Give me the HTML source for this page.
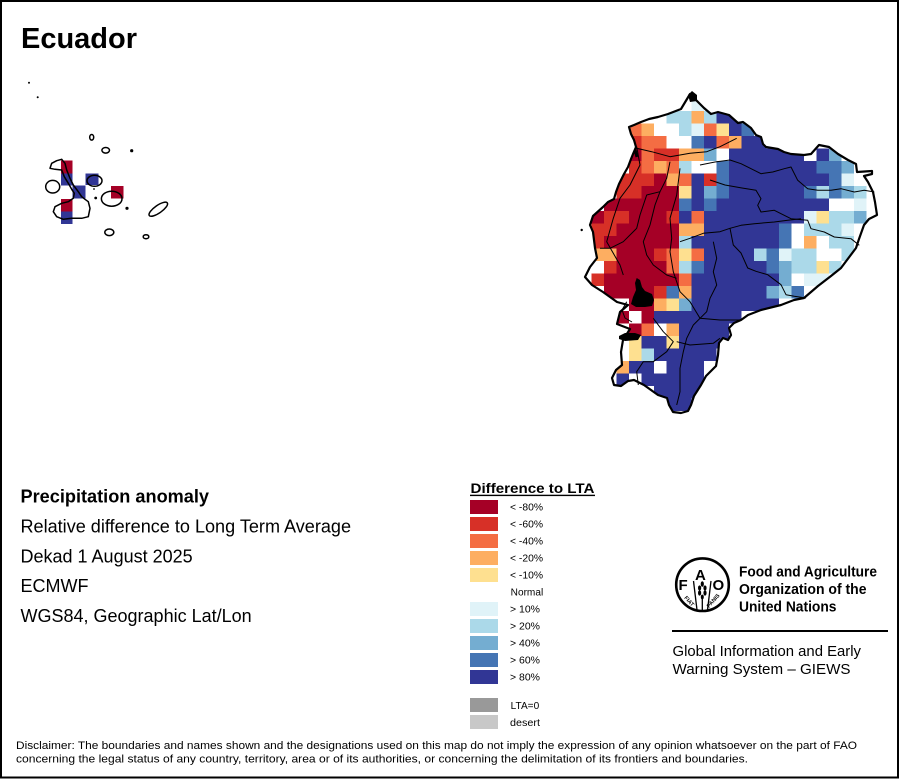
<!DOCTYPE html>
<html>
<head>
<meta charset="utf-8">
<style>
html,body{margin:0;padding:0;background:#fff;}
svg{display:block;}
.a{fill:#a50026}.b{fill:#d73027}.c{fill:#f46d43}.d{fill:#fdae61}.e{fill:#fee090}
.f{fill:#e0f3f8}.g{fill:#abd9e9}.h{fill:#74add1}.i{fill:#4575b4}.j{fill:#313695}
text{font-family:"Liberation Sans",Arial,sans-serif;fill:#000;}
.ln{fill:none;stroke:#000;stroke-width:1;stroke-linejoin:round}
</style>
</head>
<body>
<svg width="900" height="779" viewBox="0 0 900 779" xmlns="http://www.w3.org/2000/svg">
<rect x="0" y="0" width="900" height="779" fill="#fff"/>
<defs>
<clipPath id="cl">
<path d="M690,94 L697,101 L704,108 L711,114 L718,112 L729,115 L738,123 L743,122 L751,128 L756,135 L761,137 L763,144 L766,147 L778,149 L784,152 L791,154 L804,155 L811,154 L819,145 L829,147 L838,154 L848,160 L856,164 L857,172 L872,171 L872,174 L864,176 L868,182 L873,192 L875,202 L877,215 L869,219 L864,225 L859,239 L856,248 L841,268 L831,276 L818,286 L804,298 L794,300 L781,305 L761,310 L748,315 L741,320 L734,323 L729,328 L731,335 L728,340 L723,338 L719,343 L718,355 L716,366 L706,376 L701,385 L694,396 L691,405 L688,411 L681,413 L673,412 L669,405 L667,398 L658,395 L651,390 L644,385 L634,380 L628,381 L621,386 L614,385 L612,378 L616,370 L622,365 L621,352 L623,340 L630,329 L617,324 L620,312 L628,305 L617,302 L603,292 L592,285 L585,277 L590,267 L597,258 L595,248 L593,232 L590,225 L593,216 L603,207 L608,202 L614,199 L616,192 L619,184 L624,174 L628,167 L631,159 L633,154 L636,147 L634,140 L631,134 L629,127 L634,125 L641,122 L649,119 L658,117 L668,114 L681,109 Z"/>
</clipPath>
</defs>

<!-- Title -->
<text x="21" y="48" font-size="29" font-weight="bold" textLength="116" lengthAdjust="spacingAndGlyphs">Ecuador</text>

<!-- Mainland grid -->
<g clip-path="url(#cl)">
<g transform="translate(591.67 98.5) scale(12.5)" shape-rendering="crispEdges">
<rect class="f" x="8" y="0" width="1" height="1"/>
<rect class="g" x="6" y="1" width="2" height="1"/><rect class="d" x="8" y="1" width="1" height="1"/><rect class="g" x="9" y="1" width="1" height="1"/><rect class="j" x="10" y="1" width="2" height="1"/>
<rect class="c" x="3" y="2" width="1" height="1"/><rect class="d" x="4" y="2" width="1" height="1"/><rect class="g" x="7" y="2" width="1" height="1"/><rect class="f" x="8" y="2" width="1" height="1"/><rect class="c" x="9" y="2" width="1" height="1"/><rect class="e" x="10" y="2" width="1" height="1"/><rect class="j" x="11" y="2" width="1" height="1"/><rect class="i" x="12" y="2" width="1" height="1"/>
<rect class="b" x="3" y="3" width="1" height="1"/><rect class="c" x="4" y="3" width="2" height="1"/><rect class="i" x="8" y="3" width="1" height="1"/><rect class="j" x="9" y="3" width="1" height="1"/><rect class="c" x="10" y="3" width="1" height="1"/><rect class="d" x="11" y="3" width="1" height="1"/><rect class="j" x="12" y="3" width="2" height="1"/>
<rect class="a" x="3" y="4" width="1" height="1"/><rect class="c" x="4" y="4" width="1" height="1"/><rect class="b" x="5" y="4" width="2" height="1"/><rect class="d" x="7" y="4" width="2" height="1"/><rect class="h" x="9" y="4" width="1" height="1"/><rect class="j" x="11" y="4" width="6" height="1"/><rect class="j" x="18" y="4" width="1" height="1"/><rect class="h" x="19" y="4" width="1" height="1"/>
<rect class="b" x="3" y="5" width="1" height="1"/><rect class="c" x="4" y="5" width="1" height="1"/><rect class="d" x="5" y="5" width="1" height="1"/><rect class="c" x="6" y="5" width="1" height="1"/><rect class="g" x="7" y="5" width="1" height="1"/><rect class="i" x="10" y="5" width="1" height="1"/><rect class="j" x="11" y="5" width="7" height="1"/><rect class="i" x="18" y="5" width="2" height="1"/><rect class="h" x="20" y="5" width="1" height="1"/>
<rect class="b" x="2" y="6" width="3" height="1"/><rect class="a" x="5" y="6" width="1" height="1"/><rect class="d" x="6" y="6" width="1" height="1"/><rect class="c" x="7" y="6" width="1" height="1"/><rect class="j" x="8" y="6" width="1" height="1"/><rect class="b" x="9" y="6" width="1" height="1"/><rect class="i" x="10" y="6" width="1" height="1"/><rect class="j" x="11" y="6" width="8" height="1"/><rect class="i" x="19" y="6" width="1" height="1"/><rect class="f" x="20" y="6" width="1" height="1"/>
<rect class="b" x="2" y="7" width="2" height="1"/><rect class="a" x="4" y="7" width="3" height="1"/><rect class="e" x="7" y="7" width="1" height="1"/><rect class="j" x="8" y="7" width="1" height="1"/><rect class="h" x="9" y="7" width="1" height="1"/><rect class="i" x="10" y="7" width="1" height="1"/><rect class="j" x="11" y="7" width="6" height="1"/><rect class="i" x="17" y="7" width="1" height="1"/><rect class="g" x="18" y="7" width="1" height="1"/><rect class="i" x="19" y="7" width="1" height="1"/><rect class="h" x="20" y="7" width="1" height="1"/><rect class="g" x="21" y="7" width="1" height="1"/>
<rect class="a" x="1" y="8" width="6" height="1"/><rect class="i" x="7" y="8" width="1" height="1"/><rect class="j" x="8" y="8" width="1" height="1"/><rect class="i" x="9" y="8" width="1" height="1"/><rect class="j" x="10" y="8" width="9" height="1"/><rect class="f" x="21" y="8" width="1" height="1"/>
<rect class="a" x="0" y="9" width="1" height="1"/><rect class="b" x="1" y="9" width="2" height="1"/><rect class="a" x="3" y="9" width="3" height="1"/><rect class="b" x="6" y="9" width="1" height="1"/><rect class="j" x="7" y="9" width="1" height="1"/><rect class="c" x="8" y="9" width="1" height="1"/><rect class="j" x="9" y="9" width="8" height="1"/><rect class="f" x="17" y="9" width="1" height="1"/><rect class="e" x="18" y="9" width="1" height="1"/><rect class="g" x="19" y="9" width="2" height="1"/><rect class="h" x="21" y="9" width="1" height="1"/>
<rect class="b" x="0" y="10" width="2" height="1"/><rect class="a" x="2" y="10" width="5" height="1"/><rect class="d" x="7" y="10" width="2" height="1"/><rect class="j" x="9" y="10" width="6" height="1"/><rect class="i" x="15" y="10" width="1" height="1"/><rect class="g" x="17" y="10" width="3" height="1"/><rect class="f" x="20" y="10" width="1" height="1"/>
<rect class="b" x="0" y="11" width="1" height="1"/><rect class="a" x="1" y="11" width="6" height="1"/><rect class="g" x="7" y="11" width="1" height="1"/><rect class="j" x="8" y="11" width="7" height="1"/><rect class="i" x="15" y="11" width="1" height="1"/><rect class="d" x="17" y="11" width="1" height="1"/><rect class="g" x="19" y="11" width="2" height="1"/>
<rect class="d" x="0" y="12" width="2" height="1"/><rect class="a" x="2" y="12" width="3" height="1"/><rect class="b" x="5" y="12" width="1" height="1"/><rect class="c" x="6" y="12" width="1" height="1"/><rect class="e" x="7" y="12" width="1" height="1"/><rect class="c" x="8" y="12" width="1" height="1"/><rect class="j" x="9" y="12" width="4" height="1"/><rect class="g" x="13" y="12" width="1" height="1"/><rect class="i" x="14" y="12" width="1" height="1"/><rect class="f" x="15" y="12" width="1" height="1"/><rect class="g" x="16" y="12" width="2" height="1"/><rect class="g" x="20" y="12" width="1" height="1"/>
<rect class="b" x="1" y="13" width="1" height="1"/><rect class="a" x="2" y="13" width="4" height="1"/><rect class="c" x="6" y="13" width="1" height="1"/><rect class="g" x="7" y="13" width="1" height="1"/><rect class="i" x="8" y="13" width="1" height="1"/><rect class="j" x="9" y="13" width="5" height="1"/><rect class="i" x="14" y="13" width="1" height="1"/><rect class="h" x="15" y="13" width="1" height="1"/><rect class="g" x="16" y="13" width="2" height="1"/><rect class="e" x="18" y="13" width="1" height="1"/><rect class="g" x="19" y="13" width="1" height="1"/>
<rect class="b" x="0" y="14" width="1" height="1"/><rect class="a" x="1" y="14" width="6" height="1"/><rect class="c" x="7" y="14" width="1" height="1"/><rect class="j" x="8" y="14" width="7" height="1"/><rect class="h" x="15" y="14" width="1" height="1"/><rect class="f" x="17" y="14" width="2" height="1"/>
<rect class="a" x="1" y="15" width="4" height="1"/><rect class="b" x="5" y="15" width="1" height="1"/><rect class="i" x="6" y="15" width="1" height="1"/><rect class="d" x="7" y="15" width="1" height="1"/><rect class="j" x="8" y="15" width="6" height="1"/><rect class="h" x="14" y="15" width="1" height="1"/><rect class="g" x="15" y="15" width="1" height="1"/><rect class="i" x="16" y="15" width="1" height="1"/>
<rect class="a" x="3" y="16" width="2" height="1"/><rect class="d" x="5" y="16" width="1" height="1"/><rect class="e" x="6" y="16" width="1" height="1"/><rect class="h" x="7" y="16" width="1" height="1"/><rect class="j" x="8" y="16" width="7" height="1"/>
<rect class="a" x="2" y="17" width="1" height="1"/><rect class="a" x="4" y="17" width="1" height="1"/><rect class="j" x="5" y="17" width="7" height="1"/>
<rect class="a" x="3" y="18" width="1" height="1"/><rect class="c" x="4" y="18" width="1" height="1"/><rect class="d" x="6" y="18" width="1" height="1"/><rect class="j" x="7" y="18" width="4" height="1"/>
<rect class="e" x="3" y="19" width="1" height="1"/><rect class="j" x="4" y="19" width="2" height="1"/><rect class="e" x="6" y="19" width="1" height="1"/><rect class="j" x="7" y="19" width="4" height="1"/>
<rect class="e" x="3" y="20" width="1" height="1"/><rect class="g" x="4" y="20" width="1" height="1"/><rect class="j" x="5" y="20" width="5" height="1"/>
<rect class="d" x="2" y="21" width="1" height="1"/><rect class="j" x="3" y="21" width="2" height="1"/><rect class="j" x="6" y="21" width="3" height="1"/>
<rect class="j" x="2" y="22" width="1" height="1"/><rect class="j" x="4" y="22" width="5" height="1"/>
<rect class="j" x="5" y="23" width="4" height="1"/>
<rect class="j" x="6" y="24" width="2" height="1"/>
</g>
</g>

<!-- Internal boundaries -->
<g class="ln">
<polyline points="636.7,148.3 651.7,151.7 670,156.7 690,153.3 706.7,151.7 720,146.7 736.7,138.3"/>
<polyline points="700,165 715,162 730,160 741,163.7 754.3,170.3 761,173.7 772.7,172 784.3,168.7 791,167 797.7,180.3 807.7,188.7 817.7,190.3 831,190.3 841,188.7 854.3,192 864.3,190.3 874.3,192"/>
<polyline points="710,180 725,185 742,188 756,190.3 761,198.7 757.7,205.3 761,212 774.3,210.3 781,213.7 791,218.7 807.7,220.3 811,228.7 824.3,232 834.3,237 851,238.7 859.3,245.3"/>
<polyline points="730,228.3 741,225.3 754.3,223.7 774.3,222 787.7,220.3 801,218.7"/>
<polyline points="730,228.3 733.3,245 741,253 747.7,268 756,271.3 767.7,274.7 774.3,279.7 781,284.7 786,294.7 794.3,296.3 806,298"/>
<polyline points="730,228.3 720,231.7 703.3,233.3 690,238.3 680,241.7"/>
<polyline points="713.3,241.7 716.7,258.3 713.3,271.7 716.7,285 710,298.3 706.7,311.7 693.3,325 686.7,338.3 683.3,351.7 680,368.3 680,391.7 676.7,405"/>
<polyline points="670,161.7 666.7,178.3 660,191.7 655,205 650,225 643.3,241.7 646.7,255 653.3,265 666.7,275 676.7,278.3"/>
<polyline points="680,168.3 676.7,195 670,218.3 671.7,238.3 670,251.7 673.3,271.7 680,291.7 690,301.7 700,318.3 720,320 741,320"/>
<polyline points="636.7,146.7 640,165 630,185 620,198.3 613.3,218.3 606.7,241.7 620,265 623.3,275"/>
<polyline points="660,191.7 646.7,195 640,215 636.7,228.3 623.3,241.7 610,248.3 600,248.3"/>
<polyline points="653.3,318.3 663.3,331.7 673.3,341.7 666.7,351.7 653.3,361.7 643.3,361.7 636.7,371.7 638.3,385"/>
<polyline points="676.7,341.7 690,345 713.3,343.3 720,338.3"/>
<polyline points="626.7,301.7 622,310 625,318 632,322"/>
</g>

<!-- Country outline -->
<path d="M690,94 L697,101 L704,108 L711,114 L718,112 L729,115 L738,123 L743,122 L751,128 L756,135 L761,137 L763,144 L766,147 L778,149 L784,152 L791,154 L804,155 L811,154 L819,145 L829,147 L838,154 L848,160 L856,164 L857,172 L872,171 L872,174 L864,176 L868,182 L873,192 L875,202 L877,215 L869,219 L864,225 L859,239 L856,248 L841,268 L831,276 L818,286 L804,298 L794,300 L781,305 L761,310 L748,315 L741,320 L734,323 L729,328 L731,335 L728,340 L723,338 L719,343 L718,355 L716,366 L706,376 L701,385 L694,396 L691,405 L688,411 L681,413 L673,412 L669,405 L667,398 L658,395 L651,390 L644,385 L634,380 L628,381 L621,386 L614,385 L612,378 L616,370 L622,365 L621,352 L623,340 L630,329 L617,324 L620,312 L628,305 L617,302 L603,292 L592,285 L585,277 L590,267 L597,258 L595,248 L593,232 L590,225 L593,216 L603,207 L608,202 L614,199 L616,192 L619,184 L624,174 L628,167 L631,159 L633,154 L636,147 L634,140 L631,134 L629,127 L634,125 L641,122 L649,119 L658,117 L668,114 L681,109 Z" fill="none" stroke="#000" stroke-width="2.2" stroke-linejoin="round"/>
<!-- black blobs -->
<polygon points="688,95 692,91 697,95 697,101 690,102" fill="#000"/>
<polygon points="636.7,278 640,280 642,287 645,291 652,294 654,300 652,306 645,307 636,307 631,304 633,297 636,290 635,283" fill="#000"/>
<polygon points="619,336 625,333 635,333 641,335 638,340 625,341 619,339" fill="#000"/>
<circle cx="581.7" cy="230" r="1.2" fill="#000"/>
<polyline points="635,150 637,157" fill="none" stroke="#000" stroke-width="3"/>

<!-- Galapagos cells -->
<g shape-rendering="crispEdges">
<rect class="a" x="61" y="160.7" width="11.7" height="12.6"/>
<rect class="j" x="61" y="173.3" width="11.7" height="12.4"/>
<rect class="j" x="72.7" y="185.7" width="13" height="12.6"/>
<rect class="j" x="85.7" y="173.3" width="12.6" height="11.7"/>
<rect class="a" x="111" y="186" width="12.7" height="12.7"/>
<rect class="a" x="61" y="199" width="11.7" height="12.7"/>
<rect class="j" x="61" y="211.7" width="11.7" height="12.3"/>
</g>
<!-- Galapagos outlines -->
<g fill="none" stroke="#000" stroke-width="1.5" stroke-linejoin="round">
<path d="M50,168.3 L51.7,163.3 L56.7,160.7 L61.7,159.3 L65,163.3 L66.7,170 L70,178.3 L73.3,185 L78.3,191.7 L81.7,196.7 L85,199.3 L88.3,201.7 L90,208.3 L88.3,216.7 L81.7,218.3 L71.7,218.3 L63.3,219.3 L56.7,216.7 L53.3,211.7 L55,206.7 L61.7,203.3 L68.3,201.7 L73.3,198.3 L74.3,193.3 L71.7,189.3 L68.3,183.3 L64.3,176.7 L61.7,170 L55,169.3 Z"/>
<ellipse cx="52.7" cy="186.7" rx="7" ry="6.3"/>
<ellipse cx="94.5" cy="180.8" rx="7.5" ry="5.5"/>
<ellipse cx="111.7" cy="198.7" rx="10.3" ry="7.5"/>
<ellipse cx="158.3" cy="209.2" rx="11" ry="3.8" transform="rotate(-35 158.3 209.2)"/>
<ellipse cx="109.3" cy="232.3" rx="4.5" ry="3.3"/>
<ellipse cx="146" cy="236.7" rx="2.8" ry="2"/>
<ellipse cx="91.7" cy="137.3" rx="2" ry="2.8"/>
<ellipse cx="105.7" cy="150.3" rx="3.8" ry="2.8"/>
</g>
<g fill="#000">
<circle cx="29" cy="82.7" r="1"/>
<circle cx="37.7" cy="97.3" r="1"/>
<circle cx="131.7" cy="150.7" r="1.6"/>
<circle cx="127" cy="208.3" r="1.6"/>
<circle cx="95.7" cy="198" r="1.4"/>
<circle cx="94" cy="189" r="0.9"/>
</g>

<!-- Left text block -->
<text x="20.5" y="502.5" font-size="18" font-weight="bold" textLength="188.5" lengthAdjust="spacingAndGlyphs">Precipitation anomaly</text>
<text x="20.5" y="532.5" font-size="18" textLength="330.5" lengthAdjust="spacingAndGlyphs">Relative difference to Long Term Average</text>
<text x="20.5" y="562.3" font-size="18">Dekad 1 August 2025</text>
<text x="20.5" y="592.2" font-size="18">ECMWF</text>
<text x="20.5" y="621.8" font-size="18">WGS84, Geographic Lat/Lon</text>

<!-- Legend -->
<text x="470.5" y="493" font-size="14" font-weight="bold" textLength="124" lengthAdjust="spacingAndGlyphs">Difference to LTA</text>
<rect x="470" y="494.7" width="125" height="1.4" fill="#000"/>
<g shape-rendering="crispEdges">
<rect class="a" x="470" y="500" width="28" height="14"/>
<rect class="b" x="470" y="517" width="28" height="14"/>
<rect class="c" x="470" y="534" width="28" height="14"/>
<rect class="d" x="470" y="551" width="28" height="14"/>
<rect class="e" x="470" y="568" width="28" height="14"/>
<rect class="f" x="470" y="602" width="28" height="14"/>
<rect class="g" x="470" y="619" width="28" height="14"/>
<rect class="h" x="470" y="636" width="28" height="14"/>
<rect class="i" x="470" y="653" width="28" height="14"/>
<rect class="j" x="470" y="670" width="28" height="14"/>
<rect x="470" y="698" width="28" height="14" fill="#999999"/>
<rect x="470" y="715" width="28" height="14" fill="#c8c8c8"/>
</g>
<g font-size="10">
<text x="510" y="510.7" textLength="33" lengthAdjust="spacingAndGlyphs">&lt; -80%</text>
<text x="510" y="527.7" textLength="33" lengthAdjust="spacingAndGlyphs">&lt; -60%</text>
<text x="510" y="544.7" textLength="33" lengthAdjust="spacingAndGlyphs">&lt; -40%</text>
<text x="510" y="561.7" textLength="33" lengthAdjust="spacingAndGlyphs">&lt; -20%</text>
<text x="510" y="578.7" textLength="33" lengthAdjust="spacingAndGlyphs">&lt; -10%</text>
<text x="510.7" y="595.7" textLength="32.5" lengthAdjust="spacingAndGlyphs">Normal</text>
<text x="510" y="612.7" textLength="30" lengthAdjust="spacingAndGlyphs">&gt; 10%</text>
<text x="510" y="629.7" textLength="30" lengthAdjust="spacingAndGlyphs">&gt; 20%</text>
<text x="510" y="646.7" textLength="30" lengthAdjust="spacingAndGlyphs">&gt; 40%</text>
<text x="510" y="663.7" textLength="30" lengthAdjust="spacingAndGlyphs">&gt; 60%</text>
<text x="510" y="680.7" textLength="30" lengthAdjust="spacingAndGlyphs">&gt; 80%</text>
<text x="510.7" y="709" textLength="28.5" lengthAdjust="spacingAndGlyphs">LTA=0</text>
<text x="510" y="726" textLength="30" lengthAdjust="spacingAndGlyphs">desert</text>
</g>

<!-- FAO logo -->
<circle cx="702.5" cy="584.7" r="26.3" fill="none" stroke="#000" stroke-width="2.6"/>
<text x="695" y="580" font-size="15" font-weight="bold">A</text>
<text x="678.5" y="590" font-size="15" font-weight="bold">F</text>
<text x="712.5" y="590" font-size="15" font-weight="bold">O</text>
<g stroke="#000" stroke-width="1.3" fill="none">
<line x1="693.5" y1="581" x2="697" y2="610"/>
<line x1="711" y1="581" x2="707.5" y2="610"/>
<line x1="702.3" y1="596" x2="702.3" y2="611"/>
</g>
<g fill="#000">
<ellipse cx="702.3" cy="584" rx="1.6" ry="2.8"/>
<ellipse cx="699.6" cy="588" rx="1.6" ry="2.6"/>
<ellipse cx="705" cy="588" rx="1.6" ry="2.6"/>
<ellipse cx="699.6" cy="593" rx="1.6" ry="2.6"/>
<ellipse cx="705" cy="593" rx="1.6" ry="2.6"/>
<ellipse cx="702.3" cy="597" rx="1.5" ry="2.4"/>
</g>
<text x="684" y="598" font-size="5.5" font-weight="bold" transform="rotate(48 684 598)">FIAT</text>
<text x="709" y="608" font-size="5.5" font-weight="bold" transform="rotate(-48 709 608)">PANIS</text>

<text x="739" y="576.5" font-size="14.5" font-weight="bold" textLength="138" lengthAdjust="spacingAndGlyphs">Food and Agriculture</text>
<text x="739" y="594" font-size="14.5" font-weight="bold" textLength="127.5" lengthAdjust="spacingAndGlyphs">Organization of the</text>
<text x="739" y="611.5" font-size="14.5" font-weight="bold" textLength="97.5" lengthAdjust="spacingAndGlyphs">United Nations</text>
<rect x="672" y="630" width="216" height="2" fill="#000"/>
<text x="672.5" y="656" font-size="14.5" textLength="188.5" lengthAdjust="spacingAndGlyphs">Global Information and Early</text>
<text x="672.5" y="674" font-size="14.5" textLength="178" lengthAdjust="spacingAndGlyphs">Warning System – GIEWS</text>

<!-- Disclaimer -->
<text x="16" y="749" font-size="11" textLength="841" lengthAdjust="spacingAndGlyphs">Disclaimer: The boundaries and names shown and the designations used on this map do not imply the expression of any opinion whatsoever on the part of FAO</text>
<text x="16" y="762.5" font-size="11" textLength="732" lengthAdjust="spacingAndGlyphs">concerning the legal status of any country, territory, area or of its authorities, or concerning the delimitation of its frontiers and boundaries.</text>

<!-- Frame -->
<rect x="1" y="1" width="897" height="776.5" fill="none" stroke="#000" stroke-width="2"/>
</svg>
</body>
</html>
